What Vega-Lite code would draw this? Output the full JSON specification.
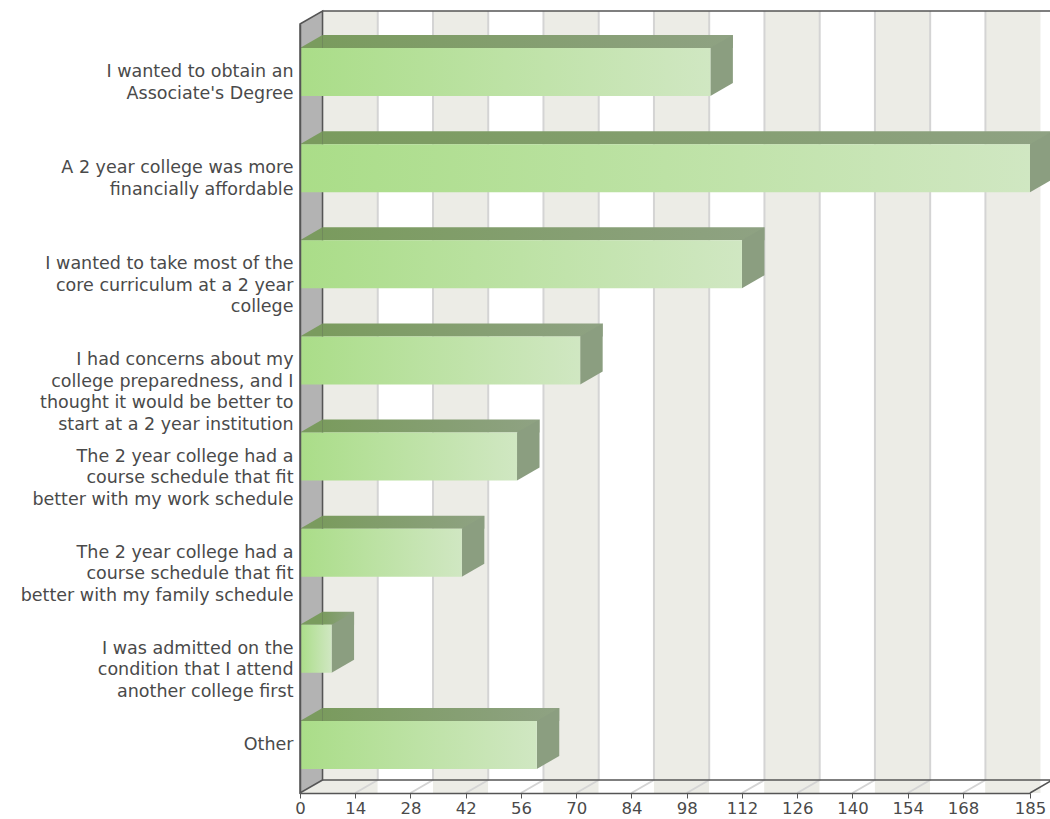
{
  "$schema": "https://vega.github.io/schema/vega-lite/v6.json",
  "width": 730,
  "height": 769,
  "autosize": {"type": "none"},
  "padding": {"left": 300, "top": 24, "right": 20, "bottom": 26},
  "background": "white",
  "config": {
    "view": {"stroke": null},
    "axis": {"labelFont": "DejaVu Sans", "labelColor": "#4a4a4a", "labelFontSize": 17.5, "title": null, "grid": false}
  },
  "datasets": {
    "bars": [
      {"label": "I wanted to obtain an\nAssociate's Degree", "value": 104},
      {"label": "A 2 year college was more\nfinancially affordable", "value": 185},
      {"label": "I wanted to take most of the\ncore curriculum at a 2 year\ncollege", "value": 112},
      {"label": "I had concerns about my\ncollege preparedness, and I\nthought it would be better to\nstart at a 2 year institution", "value": 71},
      {"label": "The 2 year college had a\ncourse schedule that fit\nbetter with my work schedule", "value": 55},
      {"label": "The 2 year college had a\ncourse schedule that fit\nbetter with my family schedule", "value": 41},
      {"label": "I was admitted on the\ncondition that I attend\nanother college first", "value": 8},
      {"label": "Other", "value": 60}
    ],
    "bands": [
      {"s": 0, "e": 14, "k": "a"}, {"s": 14, "e": 28, "k": "b"},
      {"s": 28, "e": 42, "k": "a"}, {"s": 42, "e": 56, "k": "b"},
      {"s": 56, "e": 70, "k": "a"}, {"s": 70, "e": 84, "k": "b"},
      {"s": 84, "e": 98, "k": "a"}, {"s": 98, "e": 112, "k": "b"},
      {"s": 112, "e": 126, "k": "a"}, {"s": 126, "e": 140, "k": "b"},
      {"s": 140, "e": 154, "k": "a"}, {"s": 154, "e": 168, "k": "b"},
      {"s": 168, "e": 182, "k": "a"}, {"s": 182, "e": 185, "k": "b"}
    ],
    "ticks": [
      {"t": 0}, {"t": 14}, {"t": 28}, {"t": 42}, {"t": 56}, {"t": 70}, {"t": 84},
      {"t": 98}, {"t": 112}, {"t": 126}, {"t": 140}, {"t": 154}, {"t": 168}
    ],
    "frame": [{"v": 0}]
  },
  "layer": [
    {
      "data": {"name": "bands"},
      "mark": {"type": "rect"},
      "encoding": {
        "x": {"field": "s", "type": "quantitative", "scale": {"domain": [0, 185], "nice": false, "zero": true},
          "axis": {"values": [0, 14, 28, 42, 56, 70, 84, 98, 112, 126, 140, 154, 168, 185], "domain": true, "domainColor": "#555555", "domainWidth": 1.5, "tickColor": "#555555", "tickSize": 5, "tickWidth": 1, "labelPadding": 2, "labelFontSize": 16.5, "labelFlush": false, "labelOverlap": false, "zindex": 1}},
        "x2": {"field": "e"},
        "color": {"field": "k", "type": "nominal", "scale": {"domain": ["a", "b"], "range": ["#ecece6", "#ffffff"]}, "legend": null}
      }
    },
    {
      "data": {"name": "bands"},
      "mark": {"type": "rect", "xOffset": 22.5, "x2Offset": 22.5, "yOffset": -13, "y2Offset": -13},
      "encoding": {
        "x": {"field": "s", "type": "quantitative"},
        "x2": {"field": "e"},
        "color": {"field": "k", "type": "nominal", "legend": null}
      }
    },
    {
      "data": {"name": "ticks"},
      "mark": {"type": "point", "shape": "M0,0.96125 L0.05625,0.92875 L0.05625,-0.99375", "size": 640000, "filled": false, "fill": "transparent", "stroke": "#d4d4d4", "strokeWidth": 2, "opacity": 1},
      "encoding": {"x": {"field": "t", "type": "quantitative"}}
    },
    {
      "data": {"name": "frame"},
      "mark": {"type": "point", "shape": "M0,-0.96125 L0.05625,-0.99375 L0.05625,0.92875 L0,0.96125 Z", "size": 640000, "filled": true, "fill": "#b3b3b3", "stroke": "#555555", "strokeWidth": 1.5, "opacity": 1},
      "encoding": {"x": {"field": "v", "type": "quantitative"}}
    },
    {
      "data": {"name": "frame"},
      "mark": {"type": "point", "shape": "M0.05625,-0.99375 L1.88125,-0.99375 M0.05625,0.92875 L1.88125,0.92875 M1.825,0.96125 L1.88125,0.92875", "size": 640000, "filled": false, "fill": "transparent", "stroke": "#555555", "strokeWidth": 1.5, "opacity": 1},
      "encoding": {"x": {"field": "v", "type": "quantitative"}}
    },
    {
      "data": {"name": "bars"},
      "mark": {"type": "bar", "height": 13, "yOffset": -30.5, "xOffset": 22.5, "x2Offset": 22.5,
        "color": {"gradient": "linear", "x1": 0, "x2": 1, "y1": 0, "y2": 0, "stops": [{"offset": 0, "color": "#7a9b5e"}, {"offset": 1, "color": "#8fa283"}]}},
      "encoding": {
        "y": {"field": "label", "type": "nominal", "sort": null, "scale": {"paddingInner": 0.5, "paddingOuter": 0.25},
          "axis": {"labelExpr": "split(datum.value, '\\n')", "labelLineHeight": 21.5, "labelPadding": 7, "labelLimit": 0, "ticks": false, "domain": true, "domainColor": "#555555", "domainWidth": 1.5, "zindex": 1, "labelAlign": "right", "labelBaseline": "middle"}},
        "x": {"field": "value", "type": "quantitative"}
      }
    },
    {
      "data": {"name": "bars"},
      "mark": {"type": "point", "shape": "M0,-0.6 L0.5625,-0.6 L0.5625,-0.925 Z", "size": 6400, "filled": true, "color": "#7a9b5e", "opacity": 1},
      "encoding": {
        "y": {"field": "label", "type": "nominal", "sort": null},
        "x": {"datum": 0, "type": "quantitative"}
      }
    },
    {
      "data": {"name": "bars"},
      "mark": {"type": "point", "shape": "M0,-0.6 L0.5625,-0.925 L0.5625,0.275 L0,0.6 Z", "size": 6400, "filled": true, "color": "#8b9e80", "opacity": 1},
      "encoding": {
        "y": {"field": "label", "type": "nominal", "sort": null},
        "x": {"field": "value", "type": "quantitative"}
      }
    },
    {
      "data": {"name": "bars"},
      "mark": {"type": "bar",
        "color": {"gradient": "linear", "x1": 0, "x2": 1, "y1": 0, "y2": 0, "stops": [{"offset": 0, "color": "#aadd88"}, {"offset": 1, "color": "#d0e7c2"}]}},
      "encoding": {
        "y": {"field": "label", "type": "nominal", "sort": null},
        "x": {"field": "value", "type": "quantitative"}
      }
    }
  ]
}
